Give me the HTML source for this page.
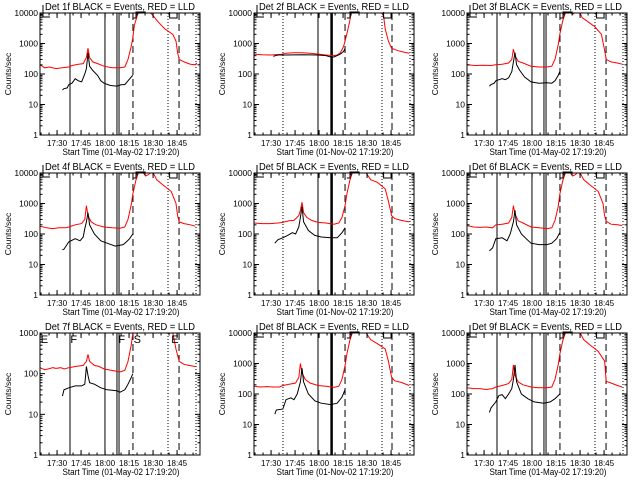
<!DOCTYPE html>
<html><head><meta charset="utf-8"><style>
html,body{margin:0;padding:0;background:#fff;}
svg{display:block;font-family:"Liberation Sans",sans-serif;}
</style></head><body>
<svg id="chart" width="640" height="480" viewBox="0 0 640 480">
<rect x="0" y="0" width="640" height="480" fill="#fff"/>
</svg>
<script>
// Data: [minutes since 17:19:20, counts/sec]
const red1=[[0,200],[3,160],[6,170],[10,150],[14,160],[18,170],[20,190],[24,210],[27,220],[29,350],[30,700],[31,350],[33,250],[36,220],[40,180],[45,160],[50,160],[53,170],[55,300],[57,800],[58,1500],[59,4000],[61,9000],[63,12000],[66,12000],[68,11000],[70,9000],[74,5000],[78,3000],[83,2000],[85,1200],[86,500],[87,300],[90,250],[94,210],[97,200],[98,230]];
const black1=[[14,30],[15,33],[17,35],[18,45],[20,50],[22,70],[24,60],[26,55],[28,100],[29,150],[30,500],[31,180],[33,130],[36,90],[38,60],[40,50],[44,42],[48,40],[51,45],[53,45],[55,60],[57,80],[58,90]];
const red2=[[0,450],[5,430],[10,420],[17,440],[20,480],[25,500],[30,500],[35,480],[40,450],[45,420],[50,400],[52,420],[54,500],[56,800],[58,2000],[60,6000],[61,12000],[79,12000],[81,8000],[82,3000],[84,1200],[86,700],[90,580],[94,520],[97,480]];
const black2=[[12,380],[15,420],[20,420],[30,430],[40,420],[45,400],[48,360],[50,360],[52,400],[54,450],[56,550],[57,700]];
const red3=[[0,200],[5,190],[10,195],[15,190],[18,200],[22,210],[26,230],[28,300],[29,650],[30,400],[32,260],[35,230],[40,180],[45,170],[50,170],[53,180],[55,300],[57,900],[58,2000],[60,6000],[62,12000],[64,12000],[66,9000],[68,11000],[70,12000],[72,7000],[76,5000],[80,3500],[84,2000],[86,600],[87,300],[90,250],[94,230],[97,210]];
const black3=[[14,40],[15,45],[17,50],[18,60],[20,65],[22,70],[24,65],[26,75],[28,120],[29,250],[30,500],[31,200],[33,130],[36,80],[40,55],[45,50],[50,52],[53,50],[55,60],[57,90],[58,120]];
const red4=[[0,180],[4,160],[8,150],[12,160],[16,160],[18,170],[22,200],[26,220],[28,300],[29,850],[30,400],[32,250],[35,200],[40,170],[45,160],[50,155],[53,170],[55,300],[57,900],[58,2000],[60,6000],[62,12000],[64,11000],[66,8000],[68,9000],[70,12000],[73,6000],[77,4000],[82,2500],[85,1000],[86,400],[87,250],[90,220],[94,200],[97,180]];
const black4=[[14,30],[15,32],[18,55],[22,70],[25,60],[27,80],[28,150],[29,250],[30,500],[31,200],[34,100],[38,60],[42,50],[47,40],[52,45],[54,55],[56,70],[58,100]];
const red5=[[0,230],[5,220],[10,220],[15,230],[18,240],[22,270],[25,280],[28,400],[29,600],[30,1100],[31,500],[33,350],[36,280],[40,240],[45,230],[50,210],[53,230],[55,350],[57,900],[58,2000],[60,6000],[62,12000],[69,12000],[73,6000],[77,5000],[82,3000],[84,1200],[86,400],[88,320],[92,280],[97,250]];
const black5=[[13,50],[15,65],[18,75],[21,90],[24,110],[26,100],[28,170],[29,350],[30,800],[31,250],[34,130],[38,90],[42,80],[48,75],[52,75],[55,110],[57,160]];
const red6=[[0,190],[4,170],[8,165],[12,170],[16,160],[18,200],[22,210],[26,230],[28,350],[29,850],[30,450],[32,270],[35,230],[40,170],[45,160],[50,150],[53,160],[55,280],[57,800],[58,2000],[60,6000],[62,12000],[64,11000],[66,8000],[68,9000],[70,12000],[73,6000],[77,4000],[82,2500],[85,1000],[86,400],[87,260],[90,210],[94,200],[97,190]];
const black6=[[14,28],[16,35],[18,70],[22,75],[25,60],[27,100],[29,250],[30,600],[31,200],[34,100],[37,70],[40,50],[45,45],[50,45],[53,50],[56,70],[58,110]];
const red7=[[0,140],[3,125],[5,130],[8,140],[10,135],[13,140],[15,130],[18,140],[22,150],[27,160],[29,200],[30,300],[31,200],[34,160],[37,150],[40,130],[45,120],[50,110],[53,120],[55,200],[57,500],[58,1000],[59,2000],[82,2000],[83,1000],[85,400],[87,200],[90,170],[93,160],[97,150]];
const black7=[[14,28],[15,40],[18,45],[22,50],[26,50],[28,55],[29,150],[30,90],[31,60],[34,55],[38,45],[42,40],[48,38],[50,35],[53,40],[55,55],[57,80],[58,100]];
const red8=[[0,180],[4,170],[8,175],[12,170],[16,170],[18,190],[22,210],[26,230],[28,350],[29,1000],[30,500],[32,300],[35,230],[40,190],[45,180],[50,165],[53,180],[55,300],[57,900],[58,2000],[60,6000],[62,12000],[69,12000],[73,6000],[77,4500],[82,3000],[84,1200],[86,350],[88,270],[92,240],[97,190]];
const black8=[[13,22],[14,30],[18,32],[20,65],[23,75],[25,65],[27,100],[29,250],[30,700],[31,250],[34,100],[38,60],[42,50],[48,45],[52,50],[55,80],[57,140]];
const red9=[[0,160],[4,150],[8,150],[12,140],[16,150],[18,170],[22,190],[26,220],[28,300],[29,900],[30,400],[32,250],[35,200],[40,170],[45,160],[50,160],[53,170],[55,300],[57,900],[58,2000],[60,6000],[62,12000],[70,12000],[73,6000],[77,4000],[82,2500],[86,1200],[87,260],[90,230],[94,190],[97,170]];
const black9=[[14,25],[15,35],[18,55],[20,90],[22,95],[24,70],[26,100],[28,150],[29,300],[30,900],[31,250],[34,100],[38,70],[42,55],[48,50],[52,55],[55,70],[58,100]];
const tickTimes=[10.667,25.667,40.667,55.667,70.667,85.667];
const tickLabels=["17:30","17:45","18:00","18:15","18:30","18:45"];
const decadeLabels=["1","10","100","1000","10000"];
const markersOuter=[[18.75,"solid"],[40.6,"solid"],[48.1,"solid"],[49.4,"solid"],[58.1,"dash"],[80,"dot"],[86.9,"dash"],[97.5,"dot"]];
const markersMid=[[18.1,"dot"],[40,"solid"],[48.5,"thick"],[56.9,"dash"],[80,"dot"],[86.25,"dash"],[97.5,"dot"]];
const panels=[
 {n:"1f",c:0,r:0,dec:4,red:red1,black:black1},
 {n:"2f",c:1,r:0,dec:4,red:red2,black:black2},
 {n:"3f",c:2,r:0,dec:4,red:red3,black:black3},
 {n:"4f",c:0,r:1,dec:4,red:red4,black:black4},
 {n:"5f",c:1,r:1,dec:4,red:red5,black:black5},
 {n:"6f",c:2,r:1,dec:4,red:red6,black:black6},
 {n:"7f",c:0,r:2,dec:3,red:red7,black:black7},
 {n:"8f",c:1,r:2,dec:4,red:red8,black:black8},
 {n:"9f",c:2,r:2,dec:4,red:red9,black:black9}
];
const colX=[40,254,467], rowY=[13,173,333], W=160, H=122, PXMIN=1.6;
const svg=document.getElementById('chart');
const NS="http://www.w3.org/2000/svg";
function mk(tag,attrs,parent){const e=document.createElementNS(NS,tag);for(const k in attrs)e.setAttribute(k,attrs[k]);(parent||svg).appendChild(e);return e;}
panels.forEach((p,pi)=>{
 const ox=colX[p.c], oy=rowY[p.r];
 const g=mk('g',{});
 
 
 const xs=t=>ox+t*PXMIN;
 const ys=v=>oy+H-(Math.log10(v)/p.dec)*H;
 const cid='clip'+pi;
 const cp=mk('clipPath',{id:cid},g); mk('rect',{x:ox,y:oy,width:W,height:H},cp);
 const title=mk('text',{x:ox+80,y:oy-3,'text-anchor':'middle','font-size':'10.5',textLength:'150',lengthAdjust:'spacingAndGlyphs'},g);
 title.textContent='Det '+p.n+' BLACK = Events, RED = LLD';
 
 
 const ms=p.c===1?markersMid:markersOuter;
 ms.forEach(m=>{
  const x=xs(m[0]);
  const a={x1:x,x2:x,y1:oy,y2:oy+H,stroke:'#000','stroke-width':m[1]==='thick'?2.5:1};
  if(m[1]==='dash')a['stroke-dasharray']='7,4';
  if(m[1]==='dot')a['stroke-dasharray']='1,2';
  const l=mk('line',a,g);
  
  
 });
 const path=arr=>arr.map((d,i)=>(i?'L':'M')+xs(d[0]).toFixed(1)+','+ys(d[1]).toFixed(1)).join(' ');
 const rl=mk('path',{d:path(p.red),fill:'none',stroke:'#ff0000','stroke-width':1,'clip-path':'url(#'+cid+')'},g);
 
 
 const bl=mk('path',{d:path(p.black),fill:'none',stroke:'#000','stroke-width':1,'clip-path':'url(#'+cid+')'},g);
 
 
 if(p.r===2&&p.c===0){
  [["E",0.5],["F",19],["F",49],["S",58.5],["E",82]].forEach(L=>{
   const t=mk('text',{x:xs(L[1]),y:oy+10,'font-size':'11'},g);t.textContent=L[0];
   
   
  });
 } else {
  const b=mk('path',{d:`M${ox+3},${oy-8}V${oy+4}H${ox+10} M${xs(58)},${oy+5}H${xs(60)}V${oy-1}H${xs(66)} M${xs(86)},${oy+5}H${xs(81)}V${oy-1}`,fill:'none',stroke:'#000','stroke-width':1},g);
  
  
 }
 const fr=mk('rect',{x:ox,y:oy,width:W,height:H,fill:'none',stroke:'#000','stroke-width':1},g);
 
 
 for(let d=0;d<=p.dec;d++){
  const y=ys(Math.pow(10,d));
  mk('line',{x1:ox,x2:ox+5,y1:y,y2:y,stroke:'#000'},g);
  mk('line',{x1:ox+W-5,x2:ox+W,y1:y,y2:y,stroke:'#000'},g);
  const t=mk('text',{x:ox-2,y:y+3,'text-anchor':'end','font-size':'8.5'},g);
  t.textContent=decadeLabels[d];
  
  
  if(d<p.dec)for(let k=2;k<=9;k++){const yy=ys(k*Math.pow(10,d));
   mk('line',{x1:ox,x2:ox+2.5,y1:yy,y2:yy,stroke:'#000'},g);
   mk('line',{x1:ox+W-2.5,x2:ox+W,y1:yy,y2:yy,stroke:'#000'},g);}
 }
 tickTimes.forEach((tt,i)=>{
  const x=xs(tt);
  mk('line',{x1:x,x2:x,y1:oy+H,y2:oy+H-5,stroke:'#000'},g);
  mk('line',{x1:x,x2:x,y1:oy,y2:oy+5,stroke:'#000'},g);
  const t=mk('text',{x:x,y:oy+H+11,'text-anchor':'middle','font-size':'8'},g);
  t.textContent=tickLabels[i];
  
  
 });
 for(let m=0.667;m<100;m+=5){const x=xs(m);
  mk('line',{x1:x,x2:x,y1:oy+H,y2:oy+H-2.5,stroke:'#000'},g);
  mk('line',{x1:x,x2:x,y1:oy,y2:oy+2.5,stroke:'#000'},g);}
 const xt=mk('text',{x:ox+81,y:oy+H+20,'text-anchor':'middle','font-size':'9',textLength:'117',lengthAdjust:'spacingAndGlyphs'},g);
 xt.textContent='Start Time ('+(p.c===1?'01-Nov-02':'01-May-02')+' 17:19:20)';
 
 
 const yt=mk('text',{x:0,y:0,'text-anchor':'middle','font-size':'8.5',transform:`translate(${ox-29},${oy+H/2}) rotate(-90)`},g);
 yt.textContent='Counts/sec';
 
 
});
</script>
</body></html>
